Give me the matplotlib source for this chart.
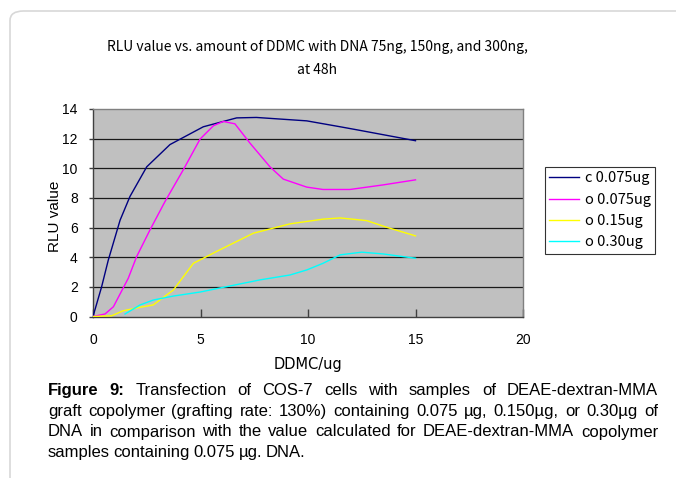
import matplotlib
matplotlib.use("Agg")
import matplotlib.pyplot as plt
from matplotlib.patches import FancyBboxPatch

# data (x = DDMC ug, y = RLU value)
c075_x = [0, 0.4, 0.71, 1.26, 1.72, 2.5, 3.58, 5.13, 6.68, 7.6, 9.94, 11.5, 12.26, 15]
c075_y = [0, 2.0, 3.8, 6.5, 8.1, 10.1, 11.6, 12.8, 13.4, 13.43, 13.2, 12.8, 12.6, 11.86]

o075_x = [0, 0.56, 0.95, 1.64, 2.03, 2.65, 3.35, 4.2, 4.98, 5.6, 6.06, 6.6, 7.3, 8.23,
          8.85, 9.94, 10.7, 11.95, 13.5, 15]
o075_y = [0, 0.17, 0.66, 2.58, 4.04, 5.84, 7.76, 9.9, 11.97, 12.87, 13.16, 13.0, 11.7, 10.1,
          9.27, 8.73, 8.57, 8.57, 8.88, 9.22]

o15_x = [0, 0.87, 1.41, 2.19, 2.8, 3.74, 4.67, 5.9, 7.46, 9.16, 10.7, 11.5, 12.73, 13.66, 15]
o15_y = [0, 0.05, 0.39, 0.62, 0.78, 1.79, 3.59, 4.5, 5.62, 6.25, 6.57, 6.65, 6.47, 6.02, 5.44]

o30_x = [1.49, 2.19, 2.8, 3.74, 4.98, 6.2, 7.77, 9.16, 9.94, 10.7, 11.5, 12.5, 13.5, 15]
o30_y = [0.17, 0.78, 1.11, 1.38, 1.65, 2.01, 2.47, 2.8, 3.14, 3.59, 4.16, 4.34, 4.22, 3.93]

series_labels = ["c 0.075ug", "o 0.075ug", "o 0.15ug", "o 0.30ug"]
series_colors = ["#000080", "#ff00ff", "#ffff00", "#00ffff"]

x_ticks = [0, 5, 10, 15, 20]
y_ticks = [0, 2, 4, 6, 8, 10, 12, 14]

title_lines = ["RLU value vs. amount of DDMC with DNA 75ng, 150ng, and 300ng,", "at 48h"]
caption_lines = [
    "Figure 9: Transfection of COS-7 cells with samples of DEAE-dextran-MMA",
    "graft copolymer (grafting rate: 130%) containing 0.075 µg, 0.150µg, or 0.30µg of",
    "DNA in comparison with the value calculated for DEAE-dextran-MMA copolymer",
    "samples containing 0.075 µg. DNA.",
]

W, H = 676, 478
GOTHIC = ["Noto Sans CJK JP", "DejaVu Sans"]
ARIAL = ["Liberation Sans", "DejaVu Sans"]

fig = plt.figure(figsize=(W / 100, H / 100), dpi=100)

# light rounded frame around the figure content
frame = FancyBboxPatch((10 / W, -0.2), 1.2, 1.2 - 11 / H,
                       boxstyle="round,pad=0,rounding_size=0.02",
                       transform=fig.transFigure, facecolor="none",
                       edgecolor="#d8d8d8", linewidth=1.2, clip_on=False)
fig.patches.append(frame)

ax = fig.add_axes([93 / W, 1 - 316.5 / H, 430 / W, 207.5 / H])
ax.set_facecolor("#c0c0c0")

for xs, ys, lab, col in zip([c075_x, o075_x, o15_x, o30_x],
                            [c075_y, o075_y, o15_y, o30_y],
                            series_labels, series_colors):
    ax.plot(xs, ys, color=col, lw=1.0, label=lab, zorder=3)

ax.set_xlim(0, 20)
ax.set_ylim(0, 14)
ax.set_xticks(x_ticks)
ax.set_yticks(y_ticks)
for y in y_ticks[1:-1]:
    ax.axhline(y, color="#1a1a1a", lw=0.9, zorder=2)

for s in ["top", "right"]:
    ax.spines[s].set_color("#808080")
for s in ["left", "bottom"]:
    ax.spines[s].set_color("#404040")
for s in ax.spines.values():
    s.set_linewidth(1.0)

ax.tick_params(axis="x", direction="in", length=6, width=1, color="#404040", pad=12)
ax.tick_params(axis="y", direction="out", length=3, width=1, color="#404040", pad=8)
for lbl in ax.get_xticklabels() + ax.get_yticklabels():
    lbl.set_family(ARIAL)
    lbl.set_fontsize(10)

ax.set_xlabel("DDMC/ug", family=["DejaVu Sans"], fontsize=10.5, labelpad=7)
ax.set_ylabel("RLU value", family=ARIAL, fontsize=11, va="center")
ax.yaxis.set_label_coords(-0.088, 0.484)

fig.text(317 / W, 1 - 47 / H, title_lines[0], ha="center", va="center",
         family=GOTHIC, fontsize=10)
fig.text(317 / W, 1 - 70 / H, title_lines[1], ha="center", va="center",
         family=GOTHIC, fontsize=10)

leg = ax.legend(loc="upper left", bbox_to_anchor=(545 / W, 1 - 167 / H),
                bbox_transform=fig.transFigure, borderaxespad=0,
                frameon=True, fancybox=False, handlelength=2.0,
                handletextpad=0.45, labelspacing=0.5, borderpad=0.3,
                prop={"family": GOTHIC, "size": 10.5})
leg.get_frame().set_edgecolor("black")
leg.get_frame().set_linewidth(0.8)

# justified caption, word by word
renderer = fig.canvas.get_renderer()
left, right = 48, 658
baselines = [395, 416, 436.5, 457]
for i, (line, yb) in enumerate(zip(caption_lines, baselines)):
    words = line.split(" ")
    texts = []
    for j, w in enumerate(words):
        bold = i == 0 and j < 2
        t = fig.text(0, 1 - yb / H, w, ha="left", va="baseline",
                     family=ARIAL, fontsize=12,
                     weight="bold" if bold else "normal")
        texts.append(t)
    widths = [t.get_window_extent(renderer).width for t in texts]
    if i < len(caption_lines) - 1:
        gap = (right - left - sum(widths)) / (len(words) - 1)
    else:
        gap = 3.5
    x = left
    for t, w in zip(texts, widths):
        t.set_x(x / W)
        x += w + gap

fig.savefig("out.png", dpi=100)
